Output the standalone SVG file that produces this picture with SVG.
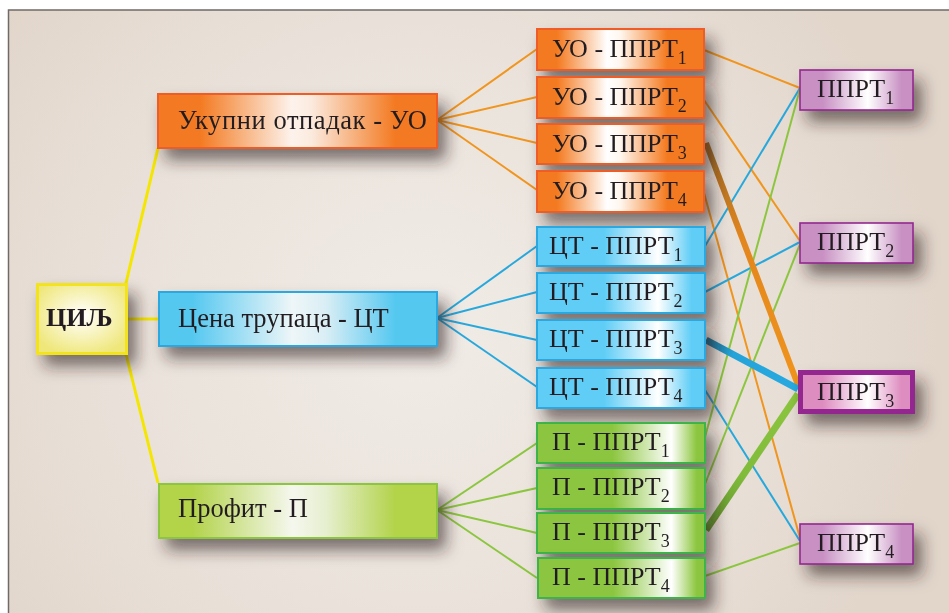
<svg xmlns="http://www.w3.org/2000/svg" width="949" height="613" viewBox="0 0 949 613">
<defs>
<radialGradient id="bg" cx="420" cy="330" r="520" gradientUnits="userSpaceOnUse">
<stop offset="0" stop-color="#f1ece7"/><stop offset="0.6" stop-color="#e9e1d9"/><stop offset="1" stop-color="#e2d6cb"/>
</radialGradient>
<filter id="sh" x="-30%" y="-40%" width="170%" height="240%">
<feDropShadow dx="8" dy="11" stdDeviation="8" flood-color="#2b2420" flood-opacity="0.6"/>
</filter>
<linearGradient id="gOrB" x1="0" x2="1" y1="0" y2="0">
<stop offset="0" stop-color="#f37a21"/><stop offset="0.15" stop-color="#f37a21"/><stop offset="0.48" stop-color="#fdf3ec"/><stop offset="0.55" stop-color="#fbeade"/><stop offset="0.85" stop-color="#f37a21"/><stop offset="1" stop-color="#f37a21"/>
</linearGradient>
<linearGradient id="gOr" x1="0" x2="1" y1="0" y2="0">
<stop offset="0" stop-color="#f47a20"/><stop offset="0.12" stop-color="#f47a20"/><stop offset="0.42" stop-color="#ffffff"/><stop offset="0.5" stop-color="#fff6ee"/><stop offset="0.78" stop-color="#f47a20"/><stop offset="1" stop-color="#f47a20"/>
</linearGradient>
<linearGradient id="gBlB" x1="0" x2="1" y1="0" y2="0">
<stop offset="0" stop-color="#55c8f0"/><stop offset="0.12" stop-color="#55c8f0"/><stop offset="0.48" stop-color="#eef6f8"/><stop offset="0.6" stop-color="#d9eef5"/><stop offset="0.85" stop-color="#55c8f0"/><stop offset="1" stop-color="#55c8f0"/>
</linearGradient>
<linearGradient id="gBl" x1="0" x2="1" y1="0" y2="0">
<stop offset="0" stop-color="#60cdf6"/><stop offset="0.4" stop-color="#60cdf6"/><stop offset="0.72" stop-color="#ffffff"/><stop offset="0.92" stop-color="#60cdf6"/><stop offset="1" stop-color="#60cdf6"/>
</linearGradient>
<linearGradient id="gGrB" x1="0" x2="1" y1="0" y2="0">
<stop offset="0" stop-color="#b3d34a"/><stop offset="0.12" stop-color="#b3d34a"/><stop offset="0.48" stop-color="#f5f7ee"/><stop offset="0.6" stop-color="#e6efcf"/><stop offset="0.85" stop-color="#b3d34a"/><stop offset="1" stop-color="#b3d34a"/>
</linearGradient>
<linearGradient id="gGr" x1="0" x2="1" y1="0" y2="0">
<stop offset="0" stop-color="#8cc63f"/><stop offset="0.45" stop-color="#8cc63f"/><stop offset="0.8" stop-color="#ffffff"/><stop offset="0.95" stop-color="#8cc63f"/><stop offset="1" stop-color="#8cc63f"/>
</linearGradient>
<linearGradient id="gPu" x1="0" x2="1" y1="0" y2="0">
<stop offset="0" stop-color="#c890c3"/><stop offset="0.2" stop-color="#c890c3"/><stop offset="0.6" stop-color="#ffffff"/><stop offset="0.9" stop-color="#c890c3"/><stop offset="1" stop-color="#c890c3"/>
</linearGradient>
<linearGradient id="gPu3" x1="0" x2="1" y1="0" y2="0">
<stop offset="0" stop-color="#de8dc0"/><stop offset="0.2" stop-color="#de8dc0"/><stop offset="0.6" stop-color="#ffffff"/><stop offset="0.9" stop-color="#de8dc0"/><stop offset="1" stop-color="#de8dc0"/>
</linearGradient>
<radialGradient id="gYe" cx="0.5" cy="0.45" r="0.6">
<stop offset="0" stop-color="#ffffff"/><stop offset="0.3" stop-color="#fbf8d8"/><stop offset="1" stop-color="#efe77a"/>
</radialGradient>
<linearGradient id="tOr" gradientUnits="userSpaceOnUse" x1="705" y1="143" x2="798" y2="385">
<stop offset="0" stop-color="#9e6a24"/><stop offset="0.4" stop-color="#e2861e"/><stop offset="1" stop-color="#f0941c"/>
</linearGradient>
<linearGradient id="tBl" gradientUnits="userSpaceOnUse" x1="705" y1="340" x2="798" y2="388">
<stop offset="0" stop-color="#1d6f92"/><stop offset="0.3" stop-color="#24a3d8"/><stop offset="1" stop-color="#27aae1"/>
</linearGradient>
<linearGradient id="tGr" gradientUnits="userSpaceOnUse" x1="705" y1="530" x2="798" y2="394">
<stop offset="0" stop-color="#5d8f2c"/><stop offset="0.4" stop-color="#80bb3a"/><stop offset="1" stop-color="#8cc63f"/>
</linearGradient>
</defs>
<style>
.t{font-family:"Liberation Serif","Times New Roman",serif;fill:#231f20;font-size:26px}
.b{font-size:26.5px}
.s{font-size:18px}
.or{stroke:#ef5b27;stroke-width:2}
.bl{stroke:#29a8df;stroke-width:2}
.gr{stroke:#3db34a;stroke-width:2}
.pu{stroke:#93278f;stroke-width:1.6}
.c{fill:none;stroke-width:2}
.co{stroke:#f0951e}
.cb{stroke:#27a8dd}
.cg{stroke:#8cc63f}
.cy{stroke:#f4e600;stroke-width:3}
</style>
<rect x="0" y="0" width="949" height="613" fill="#ffffff"/>
<rect x="8.5" y="10" width="960" height="620" fill="url(#bg)" stroke="#6f6968" stroke-width="1.5"/>

<g id="connectors" fill="none">
<line class="cy" x1="126" y1="283" x2="158" y2="148"/>
<line class="cy" x1="127" y1="319" x2="158" y2="319"/>
<line class="cy" x1="126" y1="354" x2="158" y2="483"/>
<g class="c co">
<line x1="437" y1="120" x2="537" y2="49"/>
<line x1="437" y1="120" x2="537" y2="97"/>
<line x1="437" y1="120" x2="537" y2="143"/>
<line x1="437" y1="120" x2="537" y2="190"/>
<line x1="704" y1="50" x2="800" y2="88"/>
<line x1="704" y1="100" x2="800" y2="241"/>
<line x1="704" y1="193" x2="800" y2="538"/>
</g>
<g class="c cb">
<line x1="437" y1="318" x2="537" y2="246"/>
<line x1="437" y1="318" x2="537" y2="292"/>
<line x1="437" y1="318" x2="537" y2="340"/>
<line x1="437" y1="318" x2="537" y2="387"/>
<line x1="705" y1="246" x2="800" y2="88"/>
<line x1="705" y1="292" x2="800" y2="242"/>
<line x1="705" y1="390" x2="800" y2="541"/>
</g>
<g class="c cg">
<line x1="437" y1="510" x2="537" y2="443"/>
<line x1="437" y1="510" x2="537" y2="488"/>
<line x1="437" y1="510" x2="537" y2="533"/>
<line x1="437" y1="510" x2="537" y2="578"/>
<line x1="705" y1="437" x2="800" y2="89"/>
<line x1="705" y1="484" x2="800" y2="244"/>
<line x1="705" y1="576" x2="800" y2="543"/>
</g>
<line x1="706" y1="143" x2="798" y2="385" stroke="url(#tOr)" stroke-width="6"/>
<line x1="706" y1="340" x2="798" y2="389" stroke="url(#tBl)" stroke-width="7"/>
<line x1="706" y1="530" x2="798" y2="394" stroke="url(#tGr)" stroke-width="7"/>
</g>

<g id="cilj" filter="url(#sh)">
<rect x="37.5" y="284.5" width="89" height="69" fill="url(#gYe)" stroke="#f2e31a" stroke-width="3"/>
<text x="46" y="326" class="t" font-weight="bold" font-size="26.5">ЦИЉ</text>
</g>

<g id="uo" filter="url(#sh)">
<rect x="158" y="94" width="279" height="54" fill="url(#gOrB)" class="or"/>
<text x="178" y="129" class="t b" textLength="249" lengthAdjust="spacing">Укупни отпадак - УО</text>
</g>
<g id="ct" filter="url(#sh)">
<rect x="159" y="292" width="278" height="54" fill="url(#gBlB)" class="bl"/>
<text x="178" y="327" class="t b">Цена трупаца - ЦТ</text>
</g>
<g id="p" filter="url(#sh)">
<rect x="159" y="484" width="278" height="54" fill="url(#gGrB)" stroke="#8cc63f" stroke-width="2"/>
<text x="178" y="517" class="t b">Профит - П</text>
</g>

<g id="uo1" filter="url(#sh)"><rect x="537" y="29" width="167" height="41" fill="url(#gOr)" class="or"/><text x="552" y="57" class="t">УО - ППРТ<tspan class="s" dy="7">1</tspan></text></g>
<g id="uo2" filter="url(#sh)"><rect x="537" y="77" width="167" height="41" fill="url(#gOr)" class="or"/><text x="552" y="105" class="t">УО - ППРТ<tspan class="s" dy="7">2</tspan></text></g>
<g id="uo3" filter="url(#sh)"><rect x="537" y="124" width="167" height="40" fill="url(#gOr)" class="or"/><text x="552" y="152" class="t">УО - ППРТ<tspan class="s" dy="7">3</tspan></text></g>
<g id="uo4" filter="url(#sh)"><rect x="537" y="171" width="167" height="41" fill="url(#gOr)" class="or"/><text x="552" y="199" class="t">УО - ППРТ<tspan class="s" dy="7">4</tspan></text></g>

<g id="ct1" filter="url(#sh)"><rect x="537" y="227" width="168" height="39" fill="url(#gBl)" class="bl"/><text x="549" y="254" class="t">ЦТ - ППРТ<tspan class="s" dy="7">1</tspan></text></g>
<g id="ct2" filter="url(#sh)"><rect x="537" y="273" width="168" height="40" fill="url(#gBl)" class="bl"/><text x="549" y="300" class="t">ЦТ - ППРТ<tspan class="s" dy="7">2</tspan></text></g>
<g id="ct3" filter="url(#sh)"><rect x="537" y="320" width="168" height="40" fill="url(#gBl)" class="bl"/><text x="549" y="347" class="t">ЦТ - ППРТ<tspan class="s" dy="7">3</tspan></text></g>
<g id="ct4" filter="url(#sh)"><rect x="537" y="368" width="168" height="40" fill="url(#gBl)" class="bl"/><text x="549" y="395" class="t">ЦТ - ППРТ<tspan class="s" dy="7">4</tspan></text></g>

<g id="p1" filter="url(#sh)"><rect x="537" y="423" width="168" height="40" fill="url(#gGr)" class="gr"/><text x="552" y="450" class="t">П - ППРТ<tspan class="s" dy="7">1</tspan></text></g>
<g id="p2" filter="url(#sh)"><rect x="537" y="468" width="168" height="41" fill="url(#gGr)" class="gr"/><text x="552" y="495" class="t">П - ППРТ<tspan class="s" dy="7">2</tspan></text></g>
<g id="p3" filter="url(#sh)"><rect x="537" y="513" width="168" height="40" fill="url(#gGr)" class="gr"/><text x="552" y="540" class="t">П - ППРТ<tspan class="s" dy="7">3</tspan></text></g>
<g id="p4" filter="url(#sh)"><rect x="538" y="558" width="167" height="40" fill="url(#gGr)" class="gr"/><text x="552" y="585" class="t">П - ППРТ<tspan class="s" dy="7">4</tspan></text></g>

<g id="pprt1" filter="url(#sh)"><rect x="800" y="70" width="113" height="40" fill="url(#gPu)" class="pu"/><text x="817" y="97" class="t">ППРТ<tspan class="s" dy="7">1</tspan></text></g>
<g id="pprt2" filter="url(#sh)"><rect x="800" y="223" width="113" height="40" fill="url(#gPu)" class="pu"/><text x="817" y="250" class="t">ППРТ<tspan class="s" dy="7">2</tspan></text></g>
<g id="pprt3" filter="url(#sh)"><rect x="800.5" y="372.5" width="112" height="39" fill="url(#gPu3)" stroke="#93278f" stroke-width="5"/><text x="817" y="400" class="t">ППРТ<tspan class="s" dy="7">3</tspan></text></g>
<g id="pprt4" filter="url(#sh)"><rect x="800" y="524" width="113" height="40" fill="url(#gPu)" class="pu"/><text x="817" y="551" class="t">ППРТ<tspan class="s" dy="7">4</tspan></text></g>
</svg>
